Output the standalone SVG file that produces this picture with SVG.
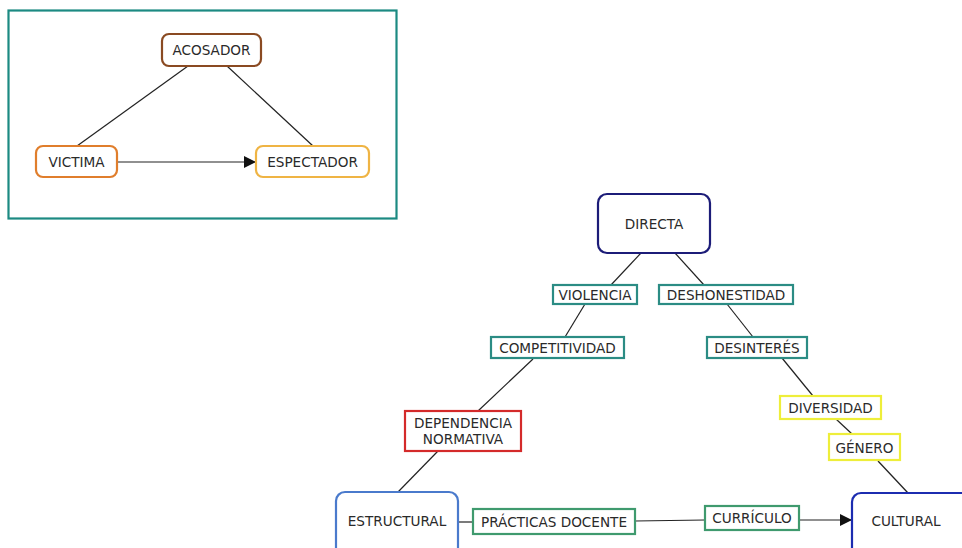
<svg xmlns="http://www.w3.org/2000/svg" width="962" height="548" viewBox="0 0 962 548">
<style>
text{font-family:"DejaVu Sans",Verdana,sans-serif;font-size:13.6px;fill:#2a2a2a;text-anchor:middle;dominant-baseline:central}
.c{stroke:#222;stroke-width:1.2;fill:none}
.r{fill:#fff;stroke-width:2.2}
.t{fill:#fff;stroke:#2b8c84;stroke-width:2.2}
.g{fill:#fff;stroke:#3f9a6e;stroke-width:2.2}
.y{fill:#fff;stroke:#eeee3a;stroke-width:2.2}
</style>
<defs>
<marker id="a" viewBox="0 0 10 10" refX="10" refY="5" markerWidth="12" markerHeight="12" markerUnits="userSpaceOnUse" orient="auto"><path d="M0,0L10,5L0,10z" fill="#111"/></marker>
</defs>
<rect width="962" height="548" fill="#fff"/>
<rect x="8.5" y="10.5" width="388" height="208" fill="none" stroke="#1c8a82" stroke-width="2.2"/>
<g id="connectors">
<line class="c" x1="188" y1="66" x2="77" y2="146"/>
<line class="c" x1="227" y1="66" x2="313" y2="146"/>
<line class="c" x1="117" y1="162" x2="256" y2="162" marker-end="url(#a)"/>
<line class="c" x1="641" y1="253" x2="611" y2="285"/>
<line class="c" x1="675" y1="253" x2="704" y2="285"/>
<line class="c" x1="585" y1="304" x2="565" y2="337"/>
<line class="c" x1="533" y1="359" x2="478" y2="411"/>
<line class="c" x1="438" y1="451" x2="398" y2="492"/>
<line class="c" x1="727" y1="304" x2="753" y2="337"/>
<line class="c" x1="782" y1="358" x2="813" y2="396"/>
<line class="c" x1="836" y1="419" x2="852" y2="434"/>
<line class="c" x1="878" y1="461" x2="908" y2="493"/>
<line class="c" x1="458" y1="522" x2="473" y2="522"/>
<line class="c" x1="635" y1="521" x2="705" y2="520"/>
<line class="c" x1="799" y1="520" x2="852" y2="520" marker-end="url(#a)"/>
</g>
<g id="acosador"><rect class="r" x="162" y="34" width="99" height="32" rx="7" stroke="#8a4a22"/><text x="211.5" y="50">ACOSADOR</text></g>
<g id="victima"><rect class="r" x="36" y="146" width="81" height="31" rx="7" stroke="#e07e2c"/><text x="76.5" y="161.5">VICTIMA</text></g>
<g id="espectador"><rect class="r" x="256" y="146" width="113" height="31" rx="7" stroke="#efb444"/><text x="312.5" y="161.5">ESPECTADOR</text></g>
<g id="directa"><rect class="r" x="598" y="194" width="112" height="59" rx="9" stroke="#1c1c78"/><text x="654" y="223.5">DIRECTA</text></g>
<g id="violencia"><rect class="t" x="553" y="285" width="84" height="19"/><text x="595" y="295">VIOLENCIA</text></g>
<g id="deshonestidad"><rect class="t" x="659" y="285" width="134" height="19"/><text x="726" y="295">DESHONESTIDAD</text></g>
<g id="competitividad"><rect class="t" x="491" y="337" width="133" height="21"/><text x="557.5" y="348">COMPETITIVIDAD</text></g>
<g id="desinteres"><rect class="t" x="707" y="337" width="100" height="21"/><text x="757" y="348">DESINTERÉS</text></g>
<g id="dependencia"><rect class="r" x="405" y="411" width="116" height="40" stroke="#d42a2a"/><text x="463" y="423">DEPENDENCIA</text><text x="463" y="439">NORMATIVA</text></g>
<g id="diversidad"><rect class="y" x="780" y="396" width="101" height="23"/><text x="830.5" y="408">DIVERSIDAD</text></g>
<g id="genero"><rect class="y" x="829" y="434" width="71" height="26"/><text x="864.5" y="447.5">GÉNERO</text></g>
<g id="estructural"><rect class="r" x="336" y="492" width="122" height="70" rx="9" stroke="#4a7acc"/><text x="397" y="521">ESTRUCTURAL</text></g>
<g id="practicas"><rect class="g" x="473" y="509" width="162" height="25"/><text x="554" y="522">PRÁCTICAS DOCENTE</text></g>
<g id="curriculo"><rect class="g" x="705" y="506" width="94" height="24"/><text x="752" y="518">CURRÍCULO</text></g>
<g id="cultural"><rect class="r" x="852" y="493" width="120" height="70" rx="9" stroke="#1c2cb0"/><text x="906" y="521">CULTURAL</text></g>
</svg>
